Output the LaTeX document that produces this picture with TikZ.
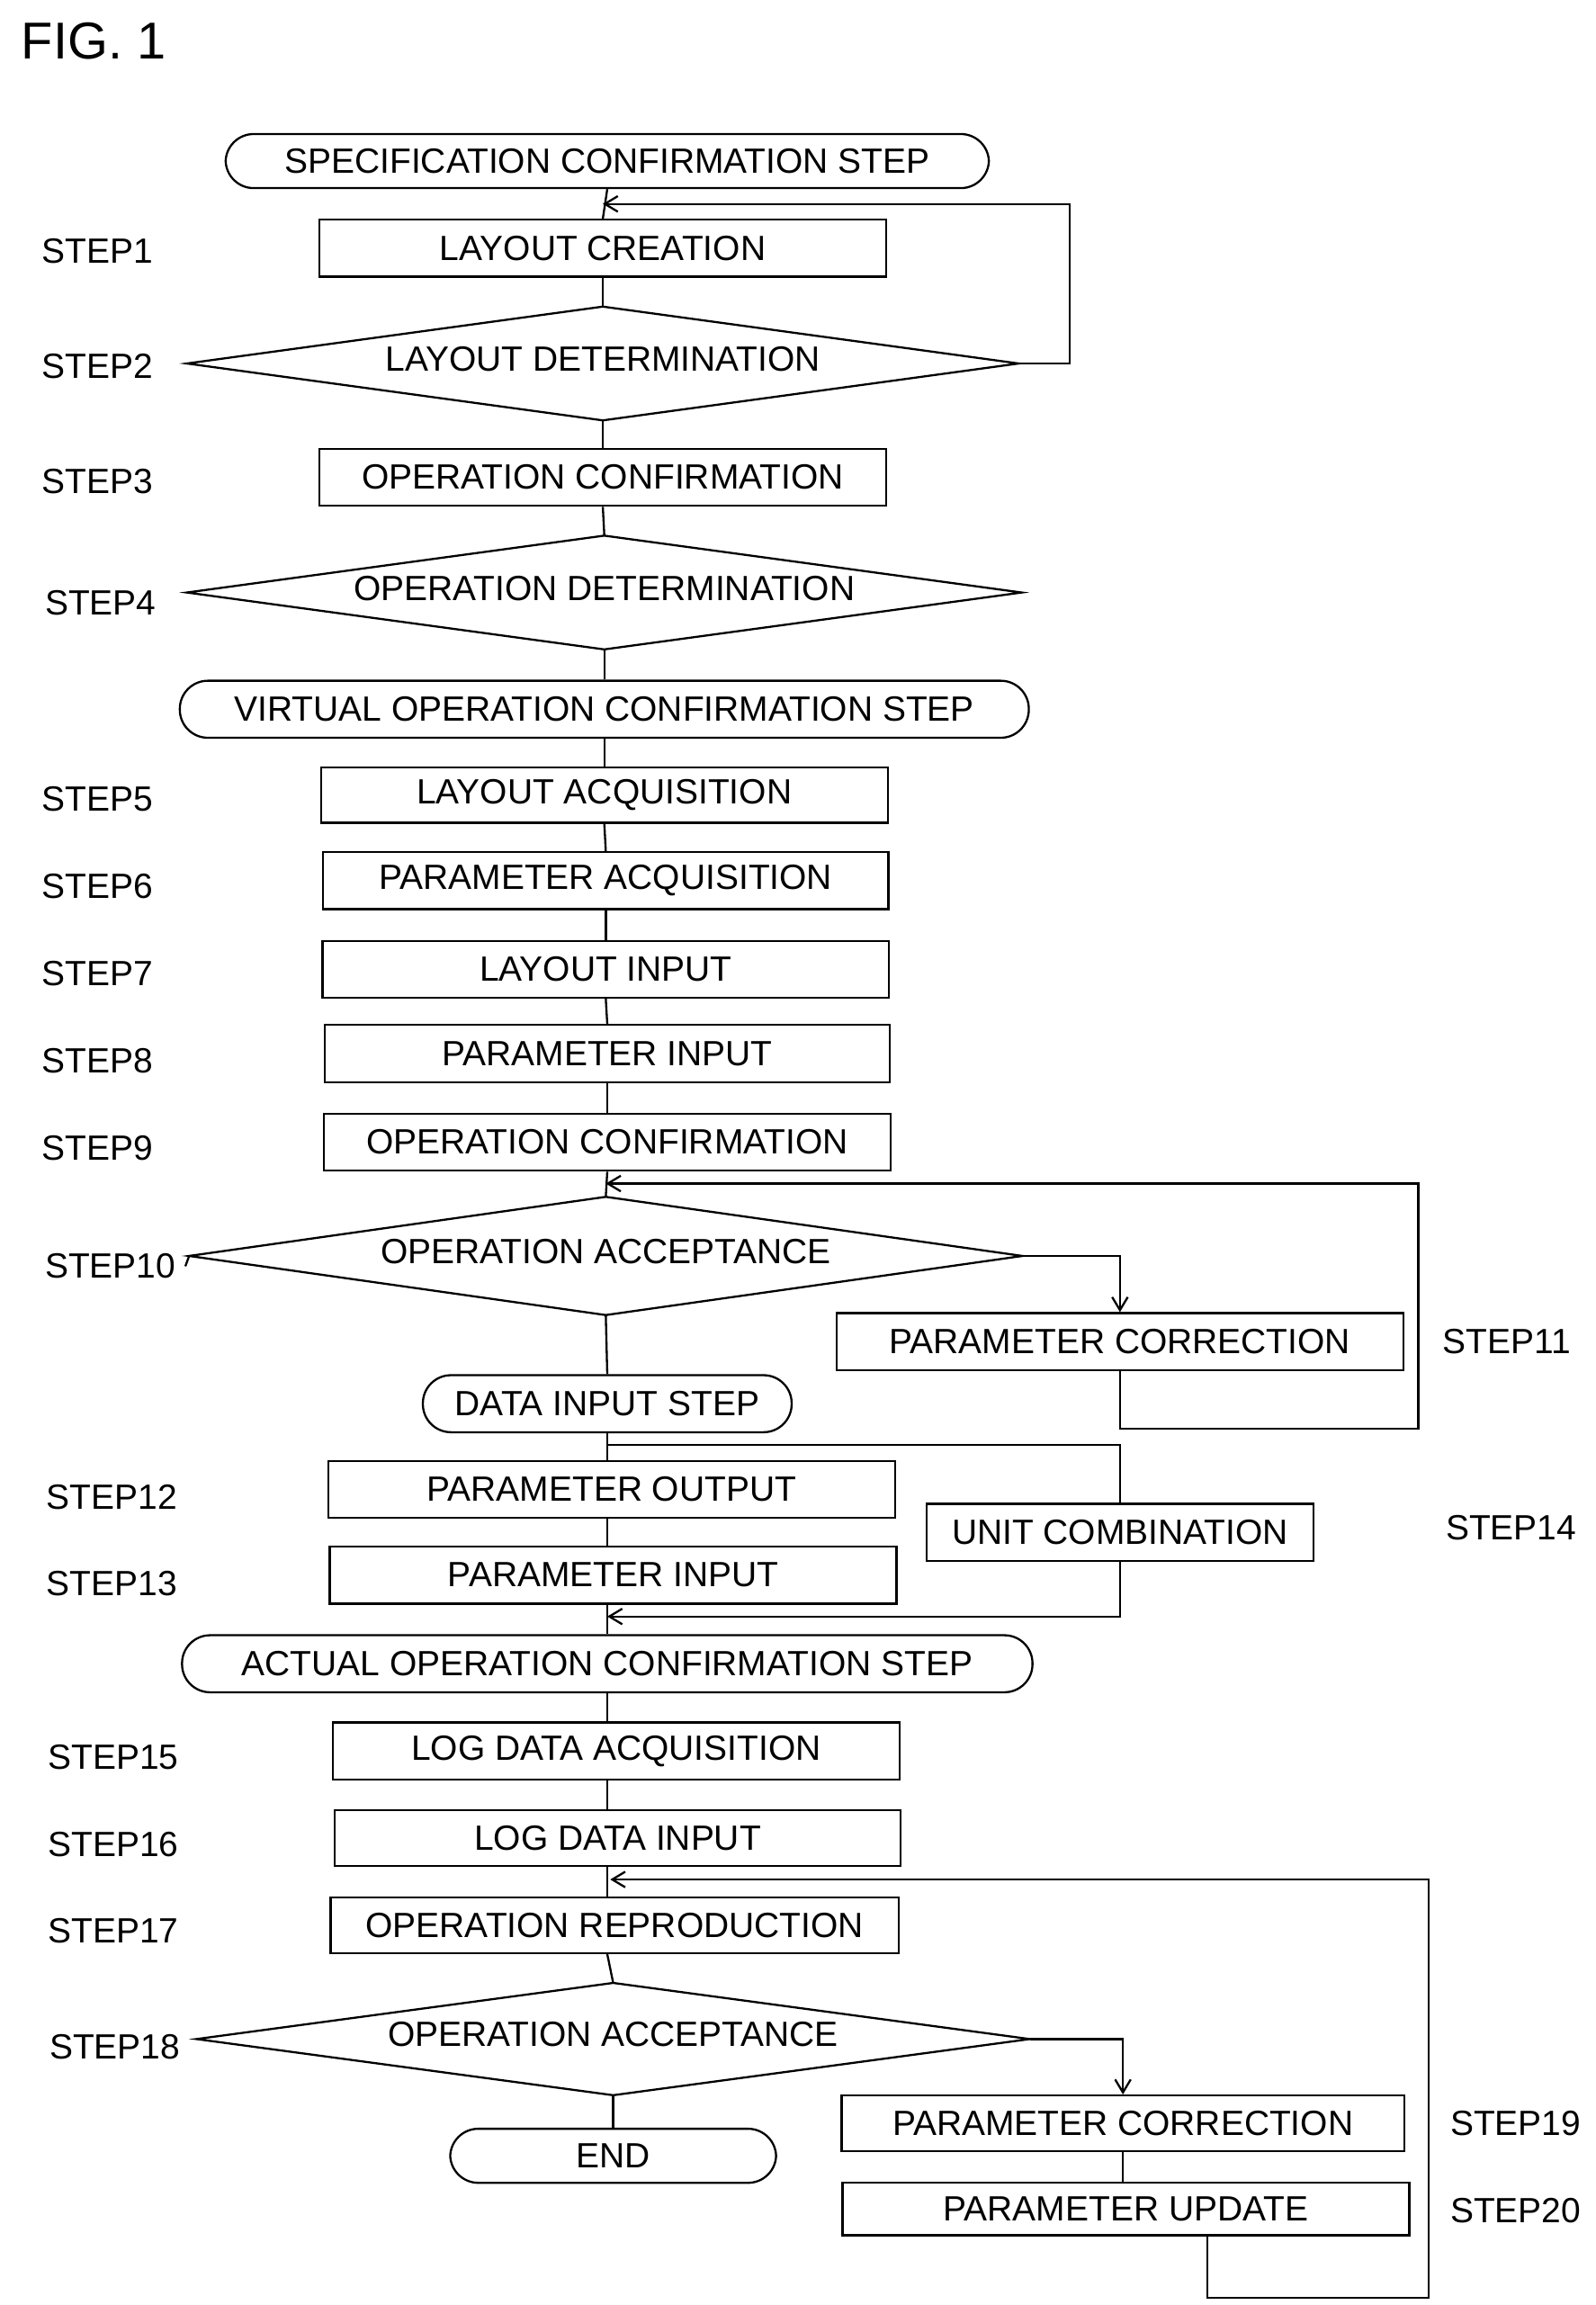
\documentclass[tikz,border=0pt]{standalone}
\usepackage{fontspec}
\setmainfont{Liberation Sans}
\usetikzlibrary{shapes.geometric,arrows.meta}
\begin{document}
\begin{tikzpicture}[x=0.02cm,y=-0.02cm,line width=0.8pt,
  txt/.style={font=\fontsize{13.5}{15}\selectfont},
  box/.style={draw,rectangle,inner sep=0pt,txt},
  term/.style={draw,rounded corners=19\pgflinewidth*0+0.38cm,inner sep=0pt,txt},
  dia/.style={draw,diamond,aspect=7,inner sep=0pt,txt},
  lab/.style={anchor=west,txt},
  arr/.style={-{Straight Barb[length=5pt,width=6pt]}}]
\useasboundingbox (0,0) rectangle (1080,1560);
\node[anchor=west,font=\fontsize{20}{22}\selectfont] (fig) at (8,28) {FIG. 1};
\newcommand{\bx}[6]{\node[box,minimum width=#4*0.02cm-0.8pt,minimum height=#5*0.02cm-0.8pt] (#1) at (#2,#3) {#6};}
\newcommand{\tm}[6]{\node[term,minimum width=#4*0.02cm-0.8pt,minimum height=#5*0.02cm-0.8pt] (#1) at (#2,#3) {#6};}
\newcommand{\dm}[6]{\draw (#2-#4/2,#3) -- (#2,#3-#5/2) -- (#2+#4/2,#3) -- (#2,#3+#5/2) -- cycle; \node[txt] (#1) at (#2,#3-3) {#6};
 \coordinate (#1L) at (#2-#4/2,#3); \coordinate (#1R) at (#2+#4/2,#3); \coordinate (#1T) at (#2,#3-#5/2); \coordinate (#1B) at (#2,#3+#5/2);}
\tm{spec}{411}{109}{518}{38}{SPECIFICATION CONFIRMATION STEP}
\bx{s1}{408}{168}{385}{40}{LAYOUT CREATION}
\dm{s2}{408}{246}{563}{77}{LAYOUT DETERMINATION}
\bx{s3}{408}{323}{385}{40}{OPERATION CONFIRMATION}
\dm{s4}{409}{401}{565}{77}{OPERATION DETERMINATION}
\tm{virt}{409}{480}{576}{40}{VIRTUAL OPERATION CONFIRMATION STEP}
\bx{s5}{409}{538}{385}{39}{LAYOUT ACQUISITION}
\bx{s6}{410}{596}{384}{40}{PARAMETER ACQUISITION}
\bx{s7}{410}{656}{385}{40}{LAYOUT INPUT}
\bx{s8}{411}{713}{384}{40}{PARAMETER INPUT}
\bx{s9}{411}{773}{385}{40}{OPERATION CONFIRMATION}
\dm{s10}{410}{850}{564}{80}{OPERATION ACCEPTANCE}
\bx{s11}{758}{908}{385}{40}{PARAMETER CORRECTION}
\tm{data}{411}{950}{251}{40}{DATA INPUT STEP}
\bx{s12}{414}{1008}{385}{40}{PARAMETER OUTPUT}
\bx{s13}{415}{1066}{385}{40}{PARAMETER INPUT}
\bx{s14}{758}{1037}{263}{40}{UNIT COMBINATION}
\tm{act}{411}{1126}{577}{40}{ACTUAL OPERATION CONFIRMATION STEP}
\bx{s15}{417}{1185}{385}{40}{LOG DATA ACQUISITION}
\bx{s16}{418}{1244}{384}{39}{LOG DATA INPUT}
\bx{s17}{416}{1303}{386}{39}{OPERATION REPRODUCTION}
\dm{s18}{415}{1380}{564}{76}{OPERATION ACCEPTANCE}
\bx{s19}{760}{1437}{382}{39}{PARAMETER CORRECTION}
\bx{s20}{762}{1495}{385}{37}{PARAMETER UPDATE}
\tm{end}{415}{1459}{222}{38}{END}
% labels
\foreach \n/\t/\x/\y in {l1/STEP1/22/170,l2/STEP2/22/248,l3/STEP3/22/326,l4/STEP4/24/408,
 l5/STEP5/22/541,l6/STEP6/22/600,l7/STEP7/22/659,l8/STEP8/22/718,l9/STEP9/22/777,l10/STEP10/24/857,
 l11/STEP11/970/908,l12/STEP12/25/1013,l13/STEP13/25/1072,l14/STEP14/972/1034,l15/STEP15/26/1189,
 l16/STEP16/26/1248,l17/STEP17/26/1307,l18/STEP18/27/1385,l19/STEP19/975/1437,l20/STEP20/975/1496}
 \node[lab] (\n) at (\x,\y) {\t};
\draw (l10.east) -- (s10L);
% spine
\draw (spec.south) -- (s1.north);
\draw (s1.south) -- (s2T);
\draw (s2B) -- (s3.north);
\draw (s3.south) -- (s4T);
\draw (s4B) -- (virt.north);
\draw (virt.south) -- (s5.north);
\draw (s5.south) -- (s6.north);
\draw (s6.south) -- (s7.north);
\draw (s7.south) -- (s8.north);
\draw (s8.south) -- (s9.north);
\draw (s9.south) -- (s10T);
\draw (s10B) -- (data.north);
\draw (data.south) -- (s12.north-|data.south);
\draw (s12.south-|data.south) -- (s13.north-|data.south);
\draw (s13.south-|data.south) -- (act.north);
\draw (act.south) -- (s15.north-|act.south);
\draw (s15.south-|act.south) -- (s16.north-|act.south);
\draw (s16.south-|act.south) -- (s17.north-|act.south);
\draw (s17.south-|act.south) -- (s18T);
\draw (s18B) -- (end.north);
\draw (s19.south) -- (s20.north-|s19.south);
% loops
\coordinate (c1) at (408,138);
\draw[arr] (s2R) -| (724,138) -- (c1);
\coordinate (c2) at (410,801);
\draw[arr] (s10R) -| (s11.north);
\draw[arr] (s11.south) |- (960,967) |- (c2);
\coordinate (c3) at (411,978);
\coordinate (c4) at (411,1094);
\draw (c3) -| (s14.north);
\draw[arr] (s14.south) |- (c4);
\coordinate (c5) at (413,1272);
\draw[arr] (s18R) -| (s19.north);
\draw[arr] (s20.south-|817,0) |- (967,1555) |- (c5);
\end{tikzpicture}
\end{document}
